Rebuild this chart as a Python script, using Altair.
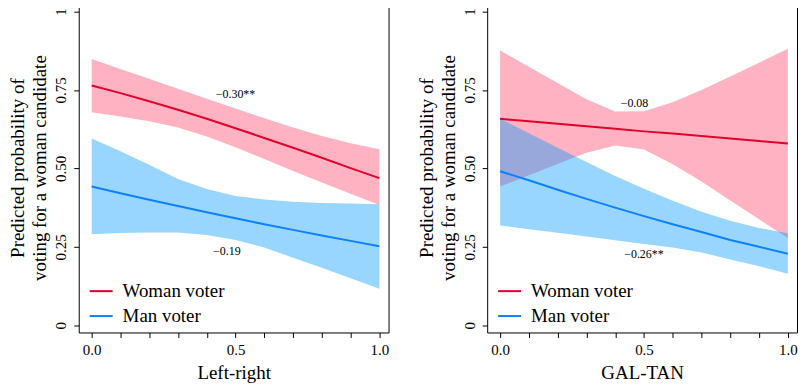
import altair as alt
import pandas as pd

# ---- data ----
x_vals = [0.0, 0.1, 0.2, 0.3, 0.4, 0.5, 0.6, 0.7, 0.8, 0.9, 1.0]

# Left-right panel
lr_woman_fit = [0.764, 0.740, 0.714, 0.687, 0.658, 0.628, 0.597, 0.566, 0.534, 0.501, 0.469]
lr_woman_hi = [0.849, 0.817, 0.786, 0.754, 0.722, 0.691, 0.660, 0.630, 0.603, 0.580, 0.561]
lr_woman_lo = [0.679, 0.665, 0.650, 0.630, 0.602, 0.567, 0.530, 0.492, 0.455, 0.419, 0.383]
lr_man_fit = [0.442, 0.421, 0.400, 0.380, 0.360, 0.341, 0.322, 0.304, 0.286, 0.269, 0.252]
lr_man_hi = [0.595, 0.555, 0.512, 0.466, 0.434, 0.412, 0.401, 0.394, 0.390, 0.388, 0.386]
lr_man_lo = [0.290, 0.294, 0.296, 0.296, 0.288, 0.272, 0.248, 0.215, 0.183, 0.150, 0.116]

# GAL-TAN panel
gt_woman_fit = [0.658, 0.650, 0.642, 0.634, 0.626, 0.618, 0.611, 0.603, 0.595, 0.587, 0.579]
gt_woman_hi = [0.876, 0.824, 0.772, 0.720, 0.681, 0.682, 0.711, 0.750, 0.793, 0.837, 0.881]
gt_woman_lo = [0.442, 0.478, 0.514, 0.550, 0.573, 0.560, 0.513, 0.458, 0.398, 0.338, 0.278]
gt_man_fit = [0.491, 0.462, 0.432, 0.403, 0.375, 0.348, 0.322, 0.297, 0.272, 0.250, 0.228]
gt_man_hi = [0.658, 0.612, 0.566, 0.520, 0.476, 0.435, 0.397, 0.362, 0.333, 0.310, 0.293]
gt_man_lo = [0.318, 0.306, 0.295, 0.283, 0.271, 0.259, 0.248, 0.232, 0.210, 0.188, 0.164]

groups = ["Woman voter", "Man voter"]
group_colors = ["#E2002D", "#0C80FF"]

lr_ann_text = ["\u22120.30**", "\u22120.19"]
lr_ann_x = [0.50, 0.47]
lr_ann_y = [0.737, 0.236]
gt_ann_text = ["\u22120.08", "\u22120.26**"]
gt_ann_x = [0.467, 0.50]
gt_ann_y = [0.707, 0.228]

x_titles = ["Left-right", "GAL-TAN"]
y_title = ["Predicted probability of", "voting for a woman candidate"]
y_ticks = [0, 0.25, 0.5, 0.75, 1]

FONT = "Times New Roman, Liberation Serif, serif"


def make_df(wf, wl, wh, mf, ml, mh):
    rows = []
    for i, x in enumerate(x_vals):
        rows.append({"x": x, "group": groups[0], "fit": wf[i], "lo": wl[i], "hi": wh[i]})
        rows.append({"x": x, "group": groups[1], "fit": mf[i], "lo": ml[i], "hi": mh[i]})
    return pd.DataFrame(rows)


xscale = alt.Scale(domain=[-0.045, 1.032], nice=False, zero=False)
yscale = alt.Scale(domain=[-0.023, 1.028], nice=False, zero=False)

x_axis_label_expr = ("(abs(datum.value) < 1e-6 || abs(datum.value - 0.5) < 1e-6 || "
                     "abs(datum.value - 1) < 1e-6) ? format(datum.value, '.1f') : ''")
y_axis_label_expr = "datum.value == 0 ? '0' : (datum.value == 1 ? '1' : format(datum.value, '.2f'))"

common_axis = dict(domain=False, grid=False, tickColor="black", tickSize=5, tickWidth=1,
                   labelFont=FONT, labelFontSize=15, labelColor="black",
                   labelOverlap=False, labelFlush=False,
                   titleFont=FONT, titleFontSize=19, titleFontWeight="normal", titleColor="black")


def panel(df, ann_text, ann_x, ann_y, xtitle):
    xaxis = alt.Axis(title=xtitle, values=x_vals, labelExpr=x_axis_label_expr,
                     labelPadding=5, titlePadding=6, **common_axis)
    yaxis = alt.Axis(title=y_title, values=y_ticks, labelExpr=y_axis_label_expr,
                     labelAngle=-90, labelAlign="center", labelBaseline="bottom",
                     labelPadding=5, titlePadding=4, titleLineHeight=22, **common_axis)
    xenc = alt.X("x:Q", scale=xscale, axis=xaxis)
    base = alt.Chart(df)
    band_w = base.transform_filter(alt.datum.group == groups[0]).mark_area(
        color="#FF0033", opacity=0.3).encode(
        x=xenc, y=alt.Y("lo:Q", scale=yscale, axis=yaxis), y2="hi:Q")
    band_m = base.transform_filter(alt.datum.group == groups[1]).mark_area(
        color="#0099FF", opacity=0.4).encode(
        x=xenc, y=alt.Y("lo:Q", scale=yscale, axis=yaxis), y2="hi:Q")
    lines = base.mark_line(strokeWidth=2).encode(
        x=xenc,
        y=alt.Y("fit:Q", scale=yscale, axis=yaxis),
        color=alt.Color("group:N", sort=groups,
                        scale=alt.Scale(domain=groups, range=group_colors),
                        legend=alt.Legend(title=None, orient="none", legendX=10, legendY=277,
                                          symbolType="stroke", symbolSize=529, symbolStrokeWidth=2,
                                          labelFont=FONT, labelFontSize=19, labelColor="black",
                                          labelOffset=9, rowPadding=2, padding=0)),
        detail="group:N")
    ann_df = pd.DataFrame({"x": ann_x, "y": ann_y, "t": ann_text})
    text = alt.Chart(ann_df).mark_text(font=FONT, fontSize=12, color="black").encode(
        x=xenc, y=alt.Y("y:Q", scale=yscale, axis=yaxis), text="t:N")
    return alt.layer(band_w, band_m, lines, text).properties(width=311, height=331)


left = panel(make_df(lr_woman_fit, lr_woman_lo, lr_woman_hi, lr_man_fit, lr_man_lo, lr_man_hi),
             lr_ann_text, lr_ann_x, lr_ann_y, x_titles[0])
right = panel(make_df(gt_woman_fit, gt_woman_lo, gt_woman_hi, gt_man_fit, gt_man_lo, gt_man_hi),
              gt_ann_text, gt_ann_x, gt_ann_y, x_titles[1])

chart = alt.hconcat(left, right, spacing=27).resolve_scale(
    color="independent").resolve_legend(color="independent").properties(
    padding={"left": 0, "top": -7, "right": 0, "bottom": 0}
).configure_view(stroke="black", strokeWidth=1).configure_axis(
    labelFont=FONT, titleFont=FONT, titleFontWeight="normal", labelOverlap=False
).configure_text(font=FONT).configure_legend(labelFont=FONT)

chart.save("out.html", embed_options={"renderer": "svg", "actions": False})
